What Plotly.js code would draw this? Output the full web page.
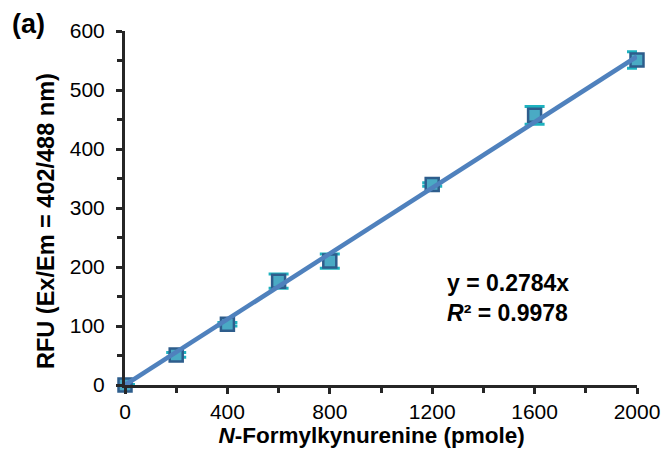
<!DOCTYPE html>
<html>
<head>
<meta charset="utf-8">
<script src="https://cdn.plot.ly/plotly-3.0.1.min.js"></script>
<style>html,body{margin:0;padding:0;background:#fff;}#chart{width:663px;height:449px;}</style>
</head>
<body>
<div id="chart"></div>
<script>
// Data
const amounts = [0, 200, 400, 600, 800, 1200, 1600, 2000];           // N-Formylkynurenine (pmole)
const rfu     = [0, 51, 103, 176, 210, 340, 457, 551];                // RFU
const rfuErr  = [1, 4, 3, 12, 12, 3, 15, 14];                         // error bar half-heights
const trendX  = [0, 2000];
const trendY  = [0, 556.8];                                           // y = 0.2784x
const xTicks  = [0, 400, 800, 1200, 1600, 2000];
const yTicks  = [0, 100, 200, 300, 400, 500, 600];
const eqText  = "y = 0.2784x";
const r2Text  = "<i>R</i>² = 0.9978";
const xTitle  = "<i>N</i>-Formylkynurenine (pmole)";
const yTitle  = "RFU (Ex/Em = 402/488 nm)";

const FONT = "Liberation Sans, Arial, sans-serif";
const AX = "#262626";
const PAD = n => "&nbsp;".repeat(n);

const traces = [
  {
    x: amounts, y: rfu, type: "scatter", mode: "markers",
    marker: {symbol: "square", size: 13, color: "#4aaac4", line: {color: "#2e5d8c", width: 2.5}},
    error_y: {type: "data", array: rfuErr, visible: true, color: "#1eb2bf", thickness: 3, width: 10},
    cliponaxis: false, showlegend: false, hoverinfo: "skip"
  },
  {
    x: trendX, y: trendY, type: "scatter", mode: "lines",
    line: {color: "#4f81bd", width: 4.5},
    cliponaxis: false, showlegend: false, hoverinfo: "skip"
  }
];

const layout = {
  width: 663, height: 449,
  margin: {l: 125, r: 26, t: 31, b: 64},
  paper_bgcolor: "#fff", plot_bgcolor: "#fff",
  font: {family: FONT, color: "#000", size: 21},
  xaxis: {
    range: [0, 2000], tickvals: xTicks, ticktext: xTicks.map(String),
    showgrid: false, zeroline: false, showline: true, linecolor: AX, linewidth: 3,
    ticks: "outside", ticklen: 6, tickwidth: 3, tickcolor: AX,
    minor: {tickvals: [200, 600, 1000, 1400, 1800], ticks: "outside", ticklen: 5, tickwidth: 3, tickcolor: AX},
    tickfont: {size: 21, family: FONT},
    title: {text: xTitle + PAD(3), font: {size: 22.5, family: FONT, weight: "bold"}, standoff: 3},
    automargin: false
  },
  yaxis: {
    range: [0, 600], tickvals: yTicks, ticktext: yTicks.map(String),
    showgrid: false, zeroline: false, showline: true, linecolor: AX, linewidth: 3,
    ticks: "outside", ticklen: 6, tickwidth: 3, tickcolor: AX,
    minor: {tickvals: [50, 150, 250, 350, 450, 550], ticks: "outside", ticklen: 5, tickwidth: 3, tickcolor: AX},
    tickfont: {size: 21, family: FONT},
    ticklabelstandoff: 7,
    title: {text: yTitle + PAD(4), font: {size: 23.5, family: FONT, weight: "bold"}, standoff: 9},
    automargin: false
  },
  annotations: [
    {x: 1250, y: 147, xref: "x", yref: "y", text: eqText + "<br>" + r2Text, showarrow: false,
     xanchor: "left", yanchor: "middle", align: "left",
     font: {size: 23, family: FONT, weight: "bold", color: "#000"}},
    {x: -0.225, y: 1.02, xref: "paper", yref: "paper", text: "(a)", showarrow: false,
     xanchor: "left", yanchor: "middle", font: {size: 27, family: FONT, weight: "bold", color: "#000"}}
  ]
};

Plotly.newPlot("chart", traces, layout, {staticPlot: true, displayModeBar: false});
</script>
</body>
</html>
